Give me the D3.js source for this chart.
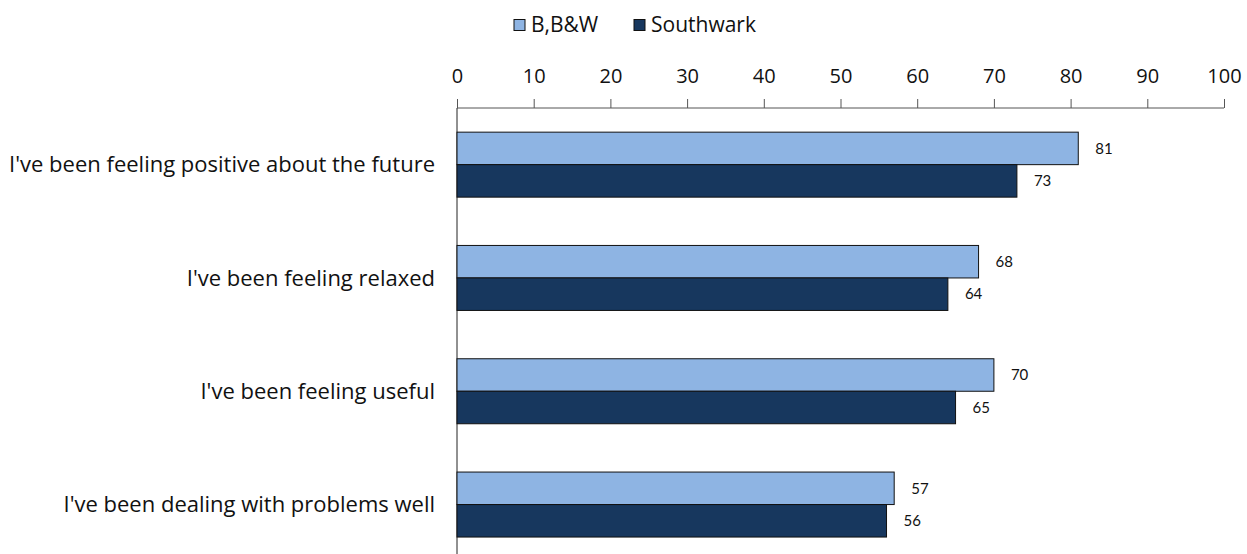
<!DOCTYPE html>
<html lang="en">
<head>
<meta charset="UTF-8">
<title>Wellbeing statements - B,B&amp;W vs Southwark</title>
<script src="https://cdnjs.cloudflare.com/ajax/libs/d3/7.8.5/d3.min.js"></script>
<style>
  body { margin:0; background:#fff; }
  svg text { font-family: "Open Sans", Lato, sans-serif; fill:#111; }
  svg text.val { font-family: Lato, sans-serif; }
</style>
</head>
<body>
<svg id="chart" width="1247" height="554"></svg>
<script>
  // data
  var categories = [
    "I've been feeling positive about the future",
    "I've been feeling relaxed",
    "I've been feeling useful",
    "I've been dealing with problems well"
  ]
  var seriesNames = ["B,B&W", "Southwark"]
  var bbwValues = [81, 68, 70, 57]
  var southwarkValues = [73, 64, 65, 56]
  var tickValues = [0, 10, 20, 30, 40, 50, 60, 70, 80, 90, 100]
  var colors = ["#8EB4E3", "#17375E"]

  var svg = d3.select("#chart")
  var margin = { top:108, left:457, right:23 }
  var width = 1247 - margin.left - margin.right
  var bandH = 113.3

  var x = d3.scaleLinear().domain([0, 100]).range([0, width])
  var y = d3.scaleBand().domain(categories).range([0, bandH * categories.length]).paddingInner(0).paddingOuter(0)
  var sub = d3.scaleBand().domain(seriesNames).range([y.bandwidth()/2 - 32.5, y.bandwidth()/2 + 32.5])

  var g = svg.append("g").attr("transform", `translate(${margin.left},${margin.top})`)

  // top axis
  var xAxis = g.append("g")
    .call(d3.axisTop(x).tickValues(tickValues).tickSize(9).tickPadding(16).tickFormat(d3.format("d")))
  xAxis.select(".domain").attr("stroke", "#555").attr("d", `M0,0H${width}`)
  xAxis.selectAll(".tick line").attr("stroke", "#555")
  xAxis.selectAll("text").attr("font-size", 20).attr("fill", "#111")
    .style("font-family", "'Open Sans', sans-serif")

  // left axis line
  g.append("line").attr("x1", 0).attr("x2", 0).attr("y1", 0).attr("y2", 554 - margin.top)
    .attr("stroke", "#222")

  var rows = categories.map((c, i) => ({ cat:c, vals:[bbwValues[i], southwarkValues[i]] }))

  var grp = g.selectAll(".grp").data(rows).enter().append("g")
    .attr("transform", d => `translate(0,${y(d.cat)})`)

  grp.selectAll("rect").data(d => d.vals.map((v, j) => ({ v:v, s:seriesNames[j], j:j }))).enter()
    .append("rect")
    .attr("x", 0)
    .attr("y", d => sub(d.s))
    .attr("width", d => x(d.v))
    .attr("height", sub.bandwidth())
    .attr("fill", d => colors[d.j])
    .attr("stroke", "#111")
    .attr("stroke-width", 1)

  grp.selectAll(".val").data(d => d.vals.map((v, j) => ({ v:v, s:seriesNames[j] }))).enter()
    .append("text")
    .attr("class", "val")
    .attr("x", d => x(d.v) + 17)
    .attr("y", d => sub(d.s) + sub.bandwidth()/2)
    .attr("dy", "0.35em")
    .attr("font-size", 15)
    .text(d => d.v)

  // category labels
  g.selectAll(".cat").data(categories).enter().append("text")
    .attr("x", -22)
    .attr("y", d => y(d) + y.bandwidth()/2)
    .attr("dy", "0.35em")
    .attr("text-anchor", "end")
    .attr("font-size", 22)
    .text(d => d)

  // legend
  var legendX = [514, 634]
  var leg = svg.selectAll(".leg").data(seriesNames).enter().append("g")
    .attr("transform", (d, i) => `translate(${legendX[i]},25)`)
  leg.append("rect").attr("x", 0).attr("y", -5.5).attr("width", 11).attr("height", 11)
    .attr("fill", (d, i) => colors[i]).attr("stroke", "#111")
  leg.append("text").attr("x", 17).attr("dy", "0.35em").attr("font-size", 21).text(d => d)
</script>
</body>
</html>
